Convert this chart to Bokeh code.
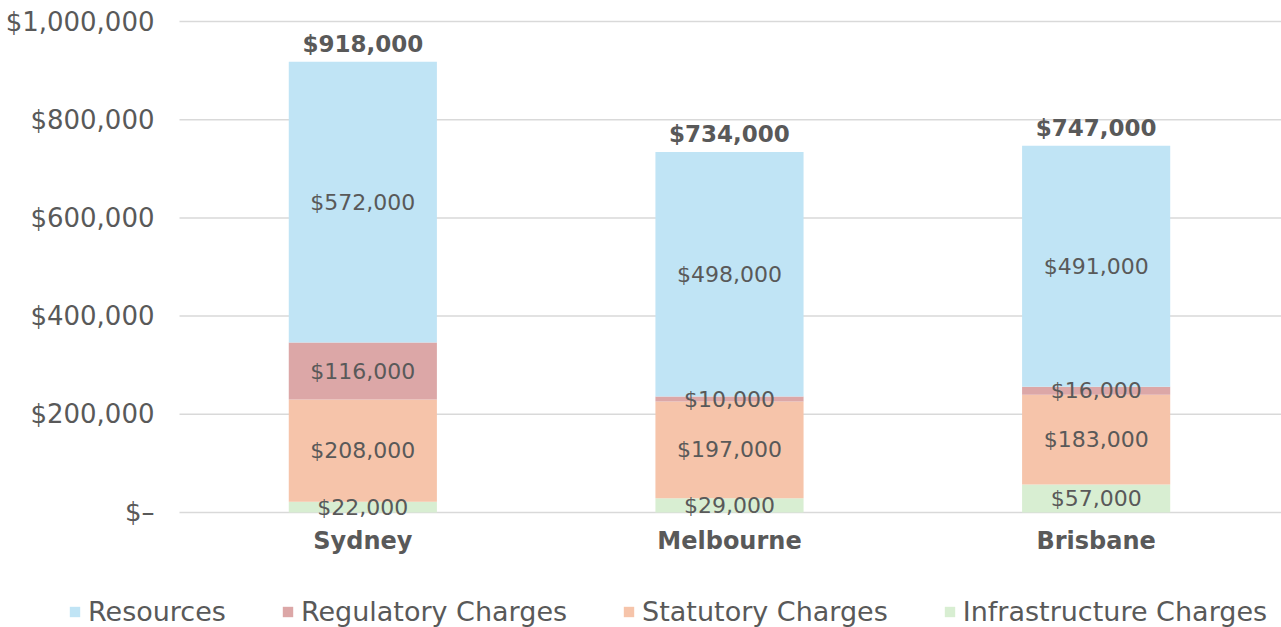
from bokeh.plotting import figure
from bokeh.models import ColumnDataSource, Legend, LegendItem, LabelSet, Range1d
from bokeh.core.properties import value
from bokeh.embed import file_html
from bokeh.resources import INLINE

cities = ["Sydney", "Melbourne", "Brisbane"]
infrastructure = [22000, 29000, 57000]
statutory = [208000, 197000, 183000]
regulatory = [116000, 10000, 16000]
resources = [572000, 498000, 491000]
totals = [918000, 734000, 747000]
y_ticks = [0, 200000, 400000, 600000, 800000, 1000000]
y_tick_labels = ["$\u2013", "$200,000", "$400,000", "$600,000", "$800,000", "$1,000,000"]

series = ["infrastructure", "statutory", "regulatory", "resources"]
names = {"infrastructure": "Infrastructure Charges", "statutory": "Statutory Charges",
         "regulatory": "Regulatory Charges", "resources": "Resources"}
colors = {"infrastructure": "#D8EED2", "statutory": "#F6C4AA",
          "regulatory": "#DCA7A7", "resources": "#C0E4F5"}
FONT = "DejaVu Sans"
TXT = "#595959"

xpos = [i + 0.5 for i in range(len(cities))]
data = dict(x=xpos, city=cities, infrastructure=infrastructure, statutory=statutory,
            regulatory=regulatory, resources=resources, total=totals)
data["total_lbl"] = ["${:,}".format(v) for v in totals]
data["zero"] = [0] * len(cities)
src = ColumnDataSource(data)

W, H = 1281, 627
p = figure(x_range=Range1d(-0.4882, 3.0055), y_range=Range1d(-234216, 1042770),
           width=W, height=H, output_backend="svg", toolbar_location=None,
           x_axis_location=None, y_axis_location=None,
           min_border=0)
p.outline_line_color = None
p.grid.grid_line_color = None

# gridlines across the category area
gsrc = ColumnDataSource(dict(x0=[0] * len(y_ticks), x1=[len(cities) + 0.0055] * len(y_ticks),
                             y=y_ticks, t=y_tick_labels))
p.segment(x0="x0", y0="y", x1="x1", y1="y", source=gsrc, line_color="#D9D9D9", line_width=1.5)
p.add_layout(LabelSet(x="x0", y="y", text="t", source=gsrc, text_align="right",
                      text_baseline="middle", x_offset=-25, text_font=value(FONT),
                      text_font_size="26px", text_color=TXT))

renderers = p.vbar_stack(series, x="x", width=0.404, source=src,
                         color=[colors[s] for s in series], line_color=None)

# segment labels
bottoms = [0] * len(cities)
for s, vals in zip(series, [infrastructure, statutory, regulatory, resources]):
    mids = [b + v / 2 for b, v in zip(bottoms, vals)]
    lsrc = ColumnDataSource(dict(x=xpos, y=mids, t=["${:,}".format(v) for v in vals]))
    p.add_layout(LabelSet(x="x", y="y", text="t", source=lsrc, text_align="center",
                          text_baseline="middle", text_font=value(FONT), text_font_size="22px",
                          text_color=TXT))
    bottoms = [b + v for b, v in zip(bottoms, vals)]

# totals
p.add_layout(LabelSet(x="x", y="total", text="total_lbl", source=src, text_align="center",
                      text_baseline="bottom", y_offset=5, text_font=value(FONT),
                      text_font_size="23px", text_font_style="bold", text_color=TXT))

# category labels
p.add_layout(LabelSet(x="x", y="zero", text="city", source=src, text_align="center",
                      text_baseline="middle", y_offset=-29, text_font=value(FONT),
                      text_font_size="24px", text_font_style="bold", text_color=TXT))

rmap = dict(zip(series, renderers))
items = [LegendItem(label=names[s], renderers=[rmap[s]]) for s in
         ["resources", "regulatory", "statutory", "infrastructure"]]
legend = Legend(items=items, orientation="horizontal", location=(68, 0),
                glyph_width=13, glyph_height=13, label_standoff=7, spacing=55,
                label_text_font=FONT, label_text_font_size="27px", label_text_color=TXT,
                border_line_color=None, background_fill_alpha=0, margin=0, padding=0)
p.add_layout(legend, "center")

open("out.html", "w").write(file_html(p, INLINE))
